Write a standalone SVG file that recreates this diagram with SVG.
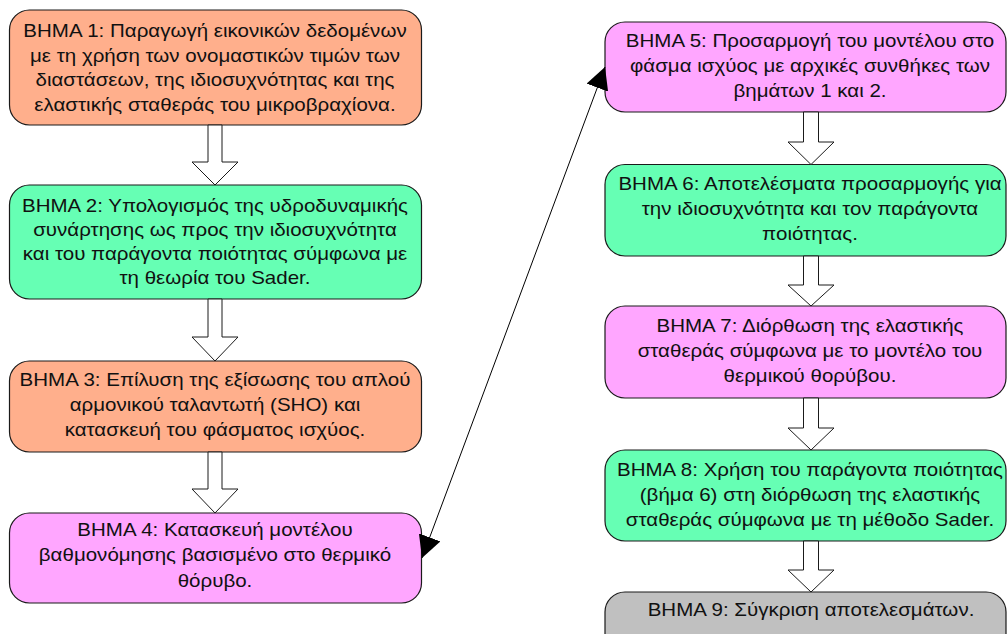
<svg xmlns="http://www.w3.org/2000/svg" width="1007" height="634" viewBox="0 0 1007 634">
<style>
.box{stroke:#1a1a1a;stroke-width:1.2}
.orange{fill:#FFAF8C}
.green{fill:#66FFB4}
.pink{fill:#FFA6FF}
.gray{fill:#C0C0C0}
.t{font-family:"Liberation Sans",Arial,sans-serif;font-size:18px;fill:#111;text-anchor:middle}
.blk{fill:#fff;stroke:#1a1a1a;stroke-width:1}
.ln{stroke:#000;stroke-width:1;fill:none}
</style>
<defs>
<marker id="ah" markerUnits="userSpaceOnUse" markerWidth="22" markerHeight="23" viewBox="0 0 22 23" refX="22" refY="11.5" orient="auto-start-reverse">
<path d="M0,0 L22,11.5 L0,23 z" fill="#000"/>
</marker>
</defs>
<rect width="1007" height="634" fill="#fff"/>
<g id="n1">
<rect class="box orange" x="9.5" y="10" width="412" height="115" rx="20"/>
<text class="t" transform="matrix(1.14,0,0,1,-30.1,0)" x="215" y="37"><tspan x="215">ΒΗΜΑ 1: Παραγωγή εικονικών δεδομένων</tspan><tspan x="215" dy="24.6">με τη χρήση των ονομαστικών τιμών των</tspan><tspan x="215" dy="24.6">διαστάσεων, της ιδιοσυχνότητας και της</tspan><tspan x="215" dy="24.6">ελαστικής σταθεράς του μικροβραχίονα.</tspan></text>
</g>
<g id="n2">
<rect class="box green" x="9.5" y="185" width="412" height="114" rx="20"/>
<text class="t" transform="matrix(1.14,0,0,1,-30.1,0)" x="215" y="212.5"><tspan x="215">ΒΗΜΑ 2: Υπολογισμός της υδροδυναμικής</tspan><tspan x="215" dy="24">συνάρτησης ως προς την ιδιοσυχνότητα</tspan><tspan x="215" dy="24">και του παράγοντα ποιότητας σύμφωνα με</tspan><tspan x="215" dy="24">τη θεωρία του Sader.</tspan></text>
</g>
<g id="n3">
<rect class="box orange" x="9.5" y="361" width="412" height="91" rx="20"/>
<text class="t" transform="matrix(1.14,0,0,1,-30.1,0)" x="215" y="386.5"><tspan x="215">ΒΗΜΑ 3: Επίλυση της εξίσωσης του απλού</tspan><tspan x="215" dy="25">αρμονικού ταλαντωτή (SHO) και</tspan><tspan x="215" dy="25">κατασκευή του φάσματος ισχύος.</tspan></text>
</g>
<g id="n4">
<rect class="box pink" x="9.5" y="513" width="412" height="90" rx="20"/>
<text class="t" transform="matrix(1.14,0,0,1,-30.1,0)" x="215" y="536"><tspan x="215">ΒΗΜΑ 4: Κατασκευή μοντέλου</tspan><tspan x="215" dy="25.5">βαθμονόμησης βασισμένο στο θερμικό</tspan><tspan x="215" dy="25.5">θόρυβο.</tspan></text>
</g>
<g id="n5">
<rect class="box pink" x="605" y="22" width="401" height="90" rx="20"/>
<text class="t" transform="matrix(1.14,0,0,1,-113.4,0)" x="810" y="47"><tspan x="810">ΒΗΜΑ 5: Προσαρμογή του μοντέλου στο</tspan><tspan x="810" dy="25">φάσμα ισχύος με αρχικές συνθήκες των</tspan><tspan x="810" dy="25">βημάτων 1 και 2.</tspan></text>
</g>
<g id="n6">
<rect class="box green" x="605" y="164.5" width="401" height="91.5" rx="20"/>
<text class="t" transform="matrix(1.14,0,0,1,-113.4,0)" x="810" y="190"><tspan x="810">ΒΗΜΑ 6: Αποτελέσματα προσαρμογής για</tspan><tspan x="810" dy="25">την ιδιοσυχνότητα και τον παράγοντα</tspan><tspan x="810" dy="25">ποιότητας.</tspan></text>
</g>
<g id="n7">
<rect class="box pink" x="605" y="306" width="401" height="92" rx="20"/>
<text class="t" transform="matrix(1.14,0,0,1,-113.4,0)" x="810" y="332"><tspan x="810">ΒΗΜΑ 7: Διόρθωση της ελαστικής</tspan><tspan x="810" dy="25">σταθεράς σύμφωνα με το μοντέλο του</tspan><tspan x="810" dy="25">θερμικού θορύβου.</tspan></text>
</g>
<g id="n8">
<rect class="box green" x="605" y="450" width="401" height="91" rx="20"/>
<text class="t" transform="matrix(1.14,0,0,1,-113.4,0)" x="810" y="476"><tspan x="810">ΒΗΜΑ 8: Χρήση του παράγοντα ποιότητας</tspan><tspan x="810" dy="25">(βήμα 6) στη διόρθωση της ελαστικής</tspan><tspan x="810" dy="25">σταθεράς σύμφωνα με τη μέθοδο Sader.</tspan></text>
</g>
<g id="n9">
<rect class="box gray" x="605" y="592" width="401" height="90" rx="20"/>
<text class="t" transform="matrix(1.14,0,0,1,-113.54,0)" x="811" y="616">ΒΗΜΑ 9: Σύγκριση αποτελεσμάτων.</text>
</g>
<g id="connectors">
<polygon class="blk" points="208,125 222,125 222,162 238,162 215,185 192,162 208,162"/>
<polygon class="blk" points="208,299 222,299 222,337 238,337 215,361 192,337 208,337"/>
<polygon class="blk" points="208,452 222,452 222,489 238,489 215,513 192,489 208,489"/>
<polygon class="blk" points="803.5,112 818.5,112 818.5,142 834,142 811,164.5 788,142 803.5,142"/>
<polygon class="blk" points="803.5,256 818.5,256 818.5,285 834,285 811,306 788,285 803.5,285"/>
<polygon class="blk" points="803.5,398 818.5,398 818.5,428 834,428 811,450 788,428 803.5,428"/>
<polygon class="blk" points="803.5,541 818.5,541 818.5,570 834,570 811,592 788,570 803.5,570"/>
<line class="ln" x1="422" y1="558" x2="605" y2="67" marker-start="url(#ah)" marker-end="url(#ah)"/>
</g>
</svg>
